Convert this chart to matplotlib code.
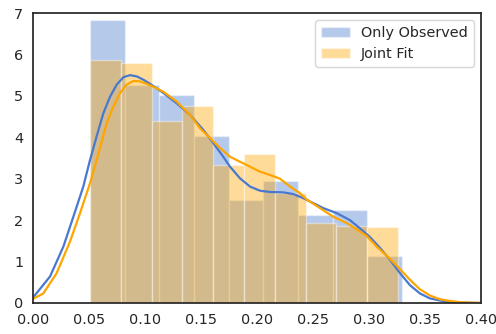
import numpy as np
import matplotlib
matplotlib.use("Agg")
import matplotlib.pyplot as plt
import seaborn as sns

sns.set_style("white")
plt.rcParams['font.family'] = ['DejaVu Sans']

# histogram densities (normalised) for the two fits
obs_edges = [0.0509, 0.0819, 0.1128, 0.1438, 0.1747, 0.2057, 0.2366, 0.2676, 0.2985, 0.3295]
obs_density = [6.82, 5.27, 5.01, 4.04, 2.49, 2.95, 2.13, 2.25, 1.14]

joint_edges = [0.0509, 0.0784, 0.1059, 0.1334, 0.1609, 0.1884, 0.2159, 0.2434, 0.2709, 0.2984, 0.3259]
joint_density = [5.87, 5.79, 4.40, 4.76, 3.32, 3.59, 2.65, 1.93, 1.86, 1.84]

# kernel density estimates
obs_kde_x = [0.0, 0.0152, 0.0271, 0.036, 0.0449, 0.0509, 0.0568, 0.0628, 0.0688, 0.0747,
             0.0807, 0.0866, 0.0926, 0.0985, 0.1045, 0.1164, 0.1283, 0.1402, 0.152, 0.161,
             0.1699, 0.1759, 0.1848, 0.1938, 0.2027, 0.2116, 0.2235, 0.2324, 0.2414, 0.2503,
             0.2592, 0.2711, 0.283, 0.292, 0.3009, 0.3098, 0.3188, 0.3277, 0.3366, 0.3455,
             0.3545, 0.3634, 0.3723, 0.3813, 0.40]
obs_kde_y = [0.13, 0.64, 1.36, 2.08, 2.81, 3.45, 4.02, 4.58, 4.98, 5.27,
             5.45, 5.50, 5.47, 5.39, 5.29, 5.07, 4.82, 4.54, 4.18, 3.86,
             3.53, 3.29, 3.01, 2.81, 2.71, 2.68, 2.67, 2.63, 2.53, 2.41,
             2.29, 2.17, 2.00, 1.80, 1.59, 1.33, 1.04, 0.72, 0.43, 0.23,
             0.11, 0.06, 0.02, 0.01, 0.0]

joint_kde_x = [0.0, 0.0092, 0.0211, 0.033, 0.042, 0.0509, 0.0568, 0.0658, 0.0717, 0.0777,
               0.0836, 0.0896, 0.0955, 0.1015, 0.1074, 0.1164, 0.1283, 0.1402, 0.1491, 0.158,
               0.167, 0.1759, 0.1848, 0.1938, 0.2027, 0.2116, 0.2205, 0.2295, 0.2384, 0.2443,
               0.2563, 0.2682, 0.2801, 0.289, 0.2979, 0.3069, 0.3158, 0.3262, 0.3366, 0.3455,
               0.3545, 0.3634, 0.3723, 0.3813, 0.40]
joint_kde_y = [0.10, 0.23, 0.72, 1.48, 2.17, 2.89, 3.45, 4.34, 4.74, 5.07,
               5.27, 5.36, 5.35, 5.29, 5.22, 5.10, 4.86, 4.54, 4.22, 3.98,
               3.74, 3.53, 3.41, 3.29, 3.17, 3.09, 3.00, 2.81, 2.65, 2.50,
               2.29, 2.08, 1.93, 1.78, 1.62, 1.36, 1.14, 0.86, 0.56, 0.33,
               0.18, 0.09, 0.05, 0.02, 0.0]

labels = ["Only Observed", "Joint Fit"]
blue = "#4878CF"
orange = "orange"

fig = plt.figure(figsize=(4.96, 3.34), dpi=100)
ax = fig.add_axes([33 / 496, 31 / 334, 448 / 496, 290 / 334])

for edges, dens, col, lab in [(obs_edges, obs_density, blue, labels[0]),
                              (joint_edges, joint_density, orange, labels[1])]:
    widths = np.diff(edges)
    ax.bar(edges[:-1], dens, width=widths, align="edge", color=col, alpha=0.4,
           edgecolor="white", linewidth=1, label=lab)

ax.plot(obs_kde_x, obs_kde_y, color=blue, lw=1.6)
ax.plot(joint_kde_x, joint_kde_y, color=orange, lw=1.6)

ax.set_xlim(0, 0.40)
ax.set_ylim(0, 7)
ax.set_xticks(np.arange(0, 0.41, 0.05))
ax.set_xticklabels([f"{t:.2f}" for t in np.arange(0, 0.41, 0.05)])
ax.tick_params(labelsize=10.4, colors=".15")
for s in ax.spines.values():
    s.set_color(".15")
    s.set_linewidth(1.25)

ax.legend(loc="upper right", fontsize=10.4, frameon=True)

fig.savefig("out.png", dpi=100)
